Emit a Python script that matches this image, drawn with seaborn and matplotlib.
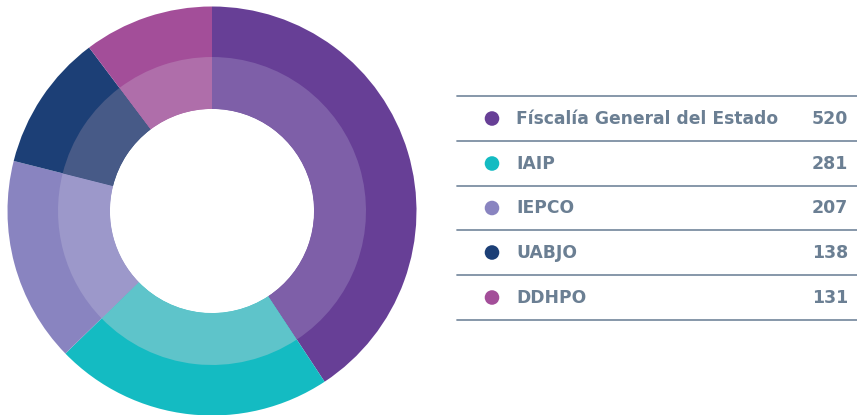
import matplotlib
matplotlib.use('Agg')
import matplotlib.pyplot as plt
import seaborn as sns

# data
entidades = ['Físcalía General del Estado', 'IAIP', 'IEPCO', 'UABJO', 'DDHPO']
valores = [520, 281, 207, 138, 131]
colores = ['#673F96', '#14BBC2', '#8984C0', '#1C3F76', '#A34E99']
colores_int = ['#7E5FA8', '#5EC4CA', '#9C98CA', '#475A87', '#AF6EAA']

sns.set_theme(style='white')
plt.rcParams['font.family'] = ['DejaVu Sans']

fig = plt.figure(figsize=(8.57, 4.15), dpi=100)

# donut
ax = fig.add_axes([7.5 / 857, -0.5 / 415, 409 / 857, 409 / 415])
ax.pie(valores, colors=colores, startangle=90, counterclock=False,
       radius=1.0, wedgeprops=dict(width=0.5, linewidth=0))
ax.pie(valores, colors=colores_int, startangle=90, counterclock=False,
       radius=0.753, wedgeprops=dict(width=0.254, linewidth=0))
ax.set_xlim(-1, 1)
ax.set_ylim(-1, 1)
ax.set_aspect('equal')
ax.axis('off')

# legend table
lx = fig.add_axes([0, 0, 1, 1])
lx.set_xlim(0, 857)
lx.set_ylim(415, 0)
lx.axis('off')

line_color = '#7D8FA3'
text_color = '#6B7F93'
row_y = [118.5, 163.5, 208, 252.5, 297.5]
lines_y = [96, 141, 186, 230, 275, 320]

for y in lines_y:
    lx.plot([457, 857], [y, y], color=line_color, lw=1.3)

sns.scatterplot(x=[492] * len(row_y), y=row_y, hue=entidades, palette=colores,
                s=110, linewidth=0, legend=False, ax=lx)

for nombre, valor, y in zip(entidades, valores, row_y):
    lx.text(516, y, nombre, color=text_color, fontsize=12.3, fontweight='bold',
            va='center', ha='left')
    lx.text(848, y, str(valor), color=text_color, fontsize=12.5, fontweight='bold',
            va='center', ha='right')

fig.savefig('out.png', dpi=100)
